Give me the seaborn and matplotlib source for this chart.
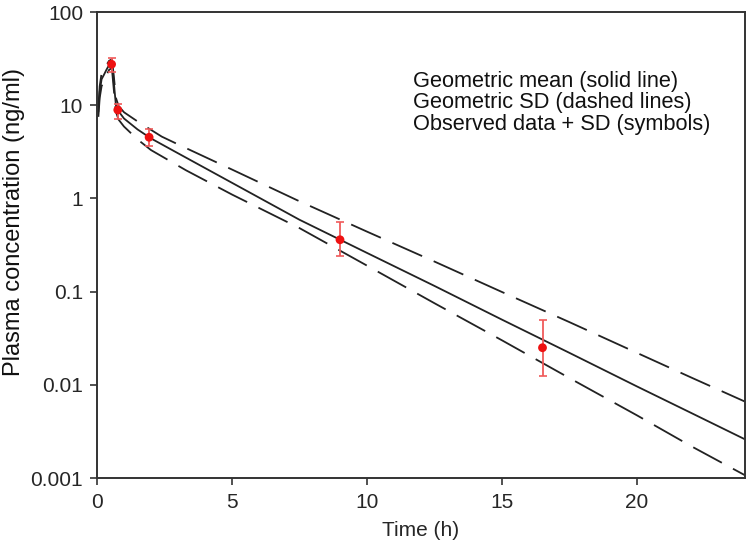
import matplotlib
matplotlib.use("Agg")
import matplotlib.pyplot as plt
import seaborn as sns
import pandas as pd
import numpy as np

# Model curves
mean_t = [0.05, 0.1, 0.17, 0.25, 0.35, 0.45, 0.55, 0.62, 0.7, 0.8, 1.0, 1.5, 2.0, 3.0, 5.0, 7.5, 10, 12.5, 15, 17.5, 20, 22, 24]
mean_c = [8.5, 14, 19, 21, 24, 27, 28, 18, 10, 8.6, 7.2, 5.5, 4.4, 3.05, 1.47, 0.59, 0.26, 0.115, 0.050, 0.022, 0.0096, 0.005, 0.0026]

upper_t = [0.05, 0.1, 0.17, 0.25, 0.35, 0.45, 0.55, 0.62, 0.7, 0.8, 1.0, 1.5, 2.4, 3.0, 5.0, 7.4, 10, 12.5, 15, 17.5, 20, 22, 24]
upper_c = [9.5, 16, 22, 24, 27, 30, 31, 21, 12, 9.8, 8.4, 6.7, 4.6, 3.8, 2.04, 0.96, 0.44, 0.21, 0.099, 0.047, 0.022, 0.012, 0.0066]

lower_t = [0.05, 0.1, 0.17, 0.25, 0.35, 0.45, 0.55, 0.62, 0.7, 0.8, 1.0, 1.5, 2.0, 3.3, 5.0, 7.5, 10, 12.5, 15, 17.5, 20, 22, 24]
lower_c = [7.5, 12, 16, 18, 21, 24, 25, 15, 8.5, 7.0, 5.9, 4.3, 3.3, 2.0, 1.1, 0.48, 0.19, 0.075, 0.030, 0.0118, 0.0047, 0.0022, 0.00107]

# Observed data + SD
obs_t = [0.54, 0.77, 1.93, 9.0, 16.5]
obs_c = [27.5, 8.9, 4.53, 0.36, 0.025]
obs_lo = [22.9, 7.1, 3.65, 0.24, 0.0125]
obs_hi = [31.9, 10.3, 5.5, 0.56, 0.05]

legend_lines = ["Geometric mean (solid line)",
                "Geometric SD (dashed lines)",
                "Observed data + SD (symbols)"]

sns.set_theme(style="ticks")
plt.rcParams['font.family'] = ['Liberation Sans', 'DejaVu Sans']

fig = plt.figure(figsize=(7.5, 5.53), dpi=100)
ax = fig.add_axes([97/750, 1-478/553, 648/750, 466/553])

df_mean = pd.DataFrame({"t": mean_t, "c": mean_c})
df_up = pd.DataFrame({"t": upper_t, "c": upper_c})
df_lo = pd.DataFrame({"t": lower_t, "c": lower_c})

sns.lineplot(data=df_mean, x="t", y="c", ax=ax, color="#222222", lw=1.3, sort=False)
sns.lineplot(data=df_up, x="t", y="c", ax=ax, color="#222222", lw=1.3, sort=False)
sns.lineplot(data=df_lo, x="t", y="c", ax=ax, color="#222222", lw=1.3, sort=False)
ax.lines[1].set_dashes((18, 7))
ax.lines[2].set_dashes((18, 7))

yerr = [np.array(obs_c) - np.array(obs_lo), np.array(obs_hi) - np.array(obs_c)]
ax.errorbar(obs_t, obs_c, yerr=yerr, fmt="none", ecolor="#f05a5a", elinewidth=1.3,
            capsize=3, capthick=1.2, zorder=4)
sns.scatterplot(x=obs_t, y=obs_c, ax=ax, color="#ee1111", s=40, edgecolor="none", zorder=5)

ax.set_yscale("log")
ax.set_xlim(0, 24)
ax.set_ylim(0.001, 100)
ax.set_xticks([0, 5, 10, 15, 20])
ax.set_yticks([0.001, 0.01, 0.1, 1, 10, 100])
ax.set_yticklabels(["0.001", "0.01", "0.1", "1", "10", "100"])
ax.yaxis.set_minor_locator(matplotlib.ticker.NullLocator())
ax.tick_params(axis="both", labelsize=15, length=5, width=1.2, color="#333333")
ax.tick_params(axis="x", pad=6)
ax.tick_params(axis="y", pad=5)
for s in ax.spines.values():
    s.set_color("#333333")
    s.set_linewidth(1.4)

ax.set_xlabel("Time (h)", fontsize=15, labelpad=6)
ax.set_ylabel("")
fig.text(14/750, 1-222/553, "Plasma concentration (ng/ml)", fontsize=17, rotation=90,
         ha="center", va="center", color="#111111")

ys = [0.850, 0.805, 0.758]
for txt, yy in zip(legend_lines, ys):
    ax.text(0.4877, yy, txt, transform=ax.transAxes, fontsize=15.7, va="center", ha="left", color="#111111")

fig.savefig("out.png", dpi=100)
